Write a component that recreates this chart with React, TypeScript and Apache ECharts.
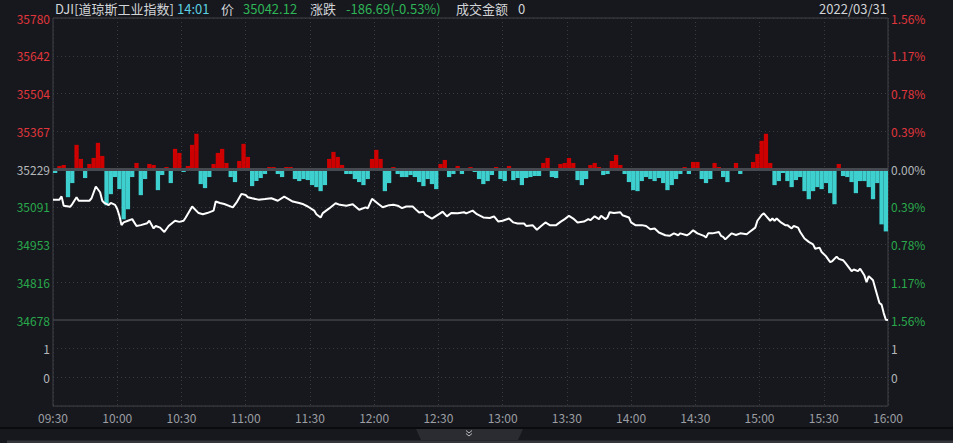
import React, { useEffect, useRef } from 'react';
import * as echarts from 'echarts';

const PREV_CLOSE = 35228.81;
const MAX_DEV = 550.92;
const STEP = MAX_DEV / 4;

// minutes since 09:30
const TIME_MIN = [
  0, 3, 4, 5, 8, 9, 11, 12, 17, 18, 20, 22, 23, 24, 26, 27, 29, 30, 31, 32, 33, 35, 37, 39, 41, 44, 45, 47, 48, 50,
  52, 54, 57, 59, 61, 62, 65, 68, 70, 72, 75, 76, 78, 80, 84, 86, 88, 90, 91, 93, 96, 99, 102, 105, 108, 110, 112,
  115, 117, 119, 122, 123, 125, 126, 129, 132, 134, 137, 140, 143, 146, 147, 149, 152, 154, 157, 159, 161, 163, 165,
  168, 170, 171, 173, 174, 177, 179, 181, 182, 184, 186, 189, 192, 193, 196, 198, 201, 204, 206, 208, 210, 213, 215,
  217, 220, 221, 224, 226, 228, 230, 232, 235, 237, 239, 241, 243, 245, 248, 250, 251, 253, 255, 256, 258, 259, 260,
  262, 265, 266, 269, 270, 272, 275, 277, 279, 281, 283, 286, 288, 290, 292, 293, 296, 297, 299, 301, 304, 305, 306,
  308, 311, 312, 313, 314, 316, 317, 319, 321, 324, 325, 328, 329, 331, 332, 333, 335, 336, 337, 338, 340, 342, 343,
  345, 346, 348, 349, 351, 353, 355, 356, 358, 359, 361, 363, 364, 366, 367, 369, 370, 373, 374, 376, 377, 379, 380,
  381, 383, 384, 386, 387, 388, 389, 390,
];

const PRICE = [
  35117, 35117, 35129, 35095, 35091, 35101, 35126, 35113, 35113, 35122, 35165, 35144, 35113, 35105, 35097, 35105,
  35098, 35083, 35058, 35024, 35034, 35040, 35046, 35021, 35024, 35031, 35040, 35012, 35021, 35015, 34999, 35021,
  35040, 35036, 35040, 35052, 35092, 35068, 35064, 35068, 35077, 35110, 35105, 35101, 35089, 35110, 35138, 35134,
  35126, 35122, 35117, 35119, 35122, 35113, 35128, 35119, 35110, 35105, 35100, 35092, 35077, 35064, 35052, 35068,
  35085, 35104, 35098, 35095, 35100, 35080, 35089, 35085, 35120, 35101, 35089, 35097, 35098, 35095, 35086, 35092,
  35092, 35077, 35070, 35073, 35061, 35048, 35058, 35068, 35073, 35056, 35068, 35067, 35071, 35067, 35077, 35064,
  35052, 35050, 35056, 35037, 35040, 35048, 35034, 35030, 35030, 35021, 35024, 35007, 35021, 35034, 35024, 35024,
  35036, 35046, 35058, 35048, 35034, 35037, 35046, 35042, 35056, 35046, 35058, 35046, 35052, 35071, 35068, 35071,
  35060, 35052, 35034, 35024, 35024, 35021, 35009, 35012, 34997, 34987, 34985, 34994, 34987, 34994, 34987, 34991,
  35005, 34994, 34985, 34979, 34994, 34994, 34999, 34985, 34981, 34972, 34987, 34994, 34988, 34994, 34991, 34997,
  35015, 35040, 35061, 35067, 35058, 35040, 35048, 35040, 35048, 35034, 35024, 35024, 35012, 35021, 35015, 34999,
  34975, 34963, 34954, 34938, 34942, 34926, 34911, 34889, 34893, 34909, 34901, 34896, 34887, 34856, 34862, 34856,
  34865, 34840, 34816, 34838, 34823, 34795, 34740, 34734, 34703, 34679, 34678,
];

// strength bars, one per 2-minute slot from 09:30 (positive = red, negative = cyan)
const BAR_VALUES = [
  -4, 3, 4, -28, -14, 24, 10, -9, 5, 11, 26, 13, -36, -25, -8, -20, -50, -40, -8, 6,
  -26, -10, 5, 4, -21, -6, 2, -14, 20, 16, -3, 3, 24, 35, -15, -19, -8, 5, 16, 20,
  6, -8, -13, 8, 25, 12, -17, -12, -9, -5, 2, 2, -5, -8, 2, 2, -10, -12, -10, -11,
  -16, -18, -22, -16, 10, 17, 12, 4, -5, -5, -10, -13, -16, -10, 10, 19, 10, -22, -14, 2,
  -5, -8, -8, -6, -8, -13, -17, -10, -15, -20, 5, 9, -8, -5, 3, -5, 1, 2, -3, -10,
  -15, -12, -6, 2, -10, -12, 3, -11, -9, -16, -9, -8, -7, -7, 6, 11, -8, -9, 5, 6,
  11, 6, -11, -16, -10, 4, 6, 2, -6, -5, 8, 14, 4, -5, -13, -21, -22, -12, -8, -10,
  -12, -9, -14, -21, -16, -10, -5, 2, -5, 7, 7, -10, -14, -10, 6, 2, -8, -13, -2, 6,
  -5, 1, 1, 7, 15, 28, 35, 6, -16, -12, -4, -12, -18, -11, -8, -22, -30, -22, -18, -20,
  -14, -24, -35, 5, -7, -8, -13, -24, -12, -12, -18, -30, -14, -55, -62,
];

const X_TICK_LABELS = [
  '09:30', '10:00', '10:30', '11:00', '11:30', '12:00', '12:30', '13:00', '13:30', '14:00', '14:30', '15:00',
  '15:30', '16:00',
];
const PRICE_TICK_LABELS = ['34678', '34816', '34953', '35091', '35229', '35367', '35504', '35642', '35780'];
const PCT_TICK_LABELS = ['1.56%', '1.17%', '0.78%', '0.39%', '0.00%', '0.39%', '0.78%', '1.17%', '1.56%'];

const HEADER = [
  { text: 'DJI[道琼斯工业指数]', x: 55, color: '#d2d4d8' },
  { text: '14:01', x: 177, color: '#5ccfe0' },
  { text: '价', x: 221, color: '#d2d4d8' },
  { text: '35042.12', x: 243, color: '#2fb457' },
  { text: '涨跌', x: 310, color: '#d2d4d8' },
  { text: '-186.69(-0.53%)', x: 346, color: '#2fb457' },
  { text: '成交金额', x: 456, color: '#d2d4d8' },
  { text: '0', x: 518, color: '#d2d4d8' },
];
const DATE_TEXT = '2022/03/31';

const RED = '#cf0000';
const CYAN = '#3ecfcf';
const LABEL_RED = '#e0363c';
const LABEL_GREEN = '#2aa84c';
const LABEL_GRAY = '#b4b6ba';
const FONT = "'Noto Sans CJK SC', 'Microsoft YaHei', sans-serif";

export default function App() {
  const ref = useRef<HTMLDivElement>(null);

  useEffect(() => {
    if (!ref.current) return;
    const chart = echarts.init(ref.current, undefined, { renderer: 'svg' });

    const gridLine = { show: true, lineStyle: { color: '#383b42', type: [1, 3] as any, width: 1 } };
    const tickIdx = (v: number) => Math.round((v + MAX_DEV) / STEP);
    const priceColor = (v: any) => {
      const n = Number(v);
      if (n > 1) return LABEL_RED;
      if (n < -1) return LABEL_GREEN;
      return LABEL_GRAY;
    };
    const slots = BAR_VALUES.map((_, i) => String(i));

    const option: any = {
      animation: false,
      backgroundColor: '#16181d',
      grid: [
        { left: 53, top: 18, width: 835, height: 302, show: true, borderColor: '#3e4148', borderWidth: 1 },
        { left: 53, top: 320, width: 835, height: 86, show: true, borderColor: '#3e4148', borderWidth: 1 },
      ],
      xAxis: [
        {
          type: 'value', gridIndex: 0, min: 0, max: 390, interval: 30,
          axisLine: { show: false }, axisTick: { show: false }, axisLabel: { show: false }, splitLine: gridLine,
        },
        { type: 'category', gridIndex: 0, data: slots, show: false, boundaryGap: true },
        {
          type: 'value', gridIndex: 1, min: 0, max: 390, interval: 30,
          axisLine: { show: false }, axisTick: { show: false },
          axisLabel: {
            formatter: (v: number) => X_TICK_LABELS[Math.round(v / 30)] ?? '',
            color: '#9c9ea3', fontSize: 12, margin: 5, fontFamily: FONT,
          },
          splitLine: gridLine,
        },
      ],
      yAxis: [
        {
          type: 'value', gridIndex: 0, position: 'left', min: -MAX_DEV, max: MAX_DEV, interval: STEP,
          axisLine: { show: false }, axisTick: { show: false },
          axisLabel: {
            formatter: (v: number) => PRICE_TICK_LABELS[tickIdx(v)] ?? '',
            color: priceColor, fontSize: 12, margin: 3, fontFamily: FONT,
          },
          splitLine: gridLine,
        },
        {
          type: 'value', gridIndex: 0, position: 'right', min: -MAX_DEV, max: MAX_DEV, interval: STEP,
          axisLine: { show: false }, axisTick: { show: false },
          axisLabel: {
            formatter: (v: number) => PCT_TICK_LABELS[tickIdx(v)] ?? '',
            color: priceColor, fontSize: 12, margin: 3, fontFamily: FONT,
          },
          splitLine: { show: false },
        },
        { type: 'value', gridIndex: 0, min: -150, max: 150, show: false, splitLine: { show: false } },
        {
          type: 'value', gridIndex: 1, position: 'left', min: -1, max: 2, interval: 1,
          axisLine: { show: false }, axisTick: { show: false },
          axisLabel: {
            formatter: (v: number) => (v === 0 || v === 1 ? String(v) : ''),
            color: LABEL_GRAY, fontSize: 12, margin: 3, fontFamily: FONT,
          },
          splitLine: gridLine,
        },
        {
          type: 'value', gridIndex: 1, position: 'right', min: -1, max: 2, interval: 1,
          axisLine: { show: false }, axisTick: { show: false },
          axisLabel: {
            formatter: (v: number) => (v === 0 || v === 1 ? String(v) : ''),
            color: LABEL_GRAY, fontSize: 12, margin: 3, fontFamily: FONT,
          },
          splitLine: { show: false },
        },
      ],
      series: [
        {
          type: 'bar', xAxisIndex: 1, yAxisIndex: 2, data: BAR_VALUES, barCategoryGap: '0%',
          itemStyle: { color: (p: any) => (p.value >= 0 ? RED : CYAN) },
          silent: true,
        },
        {
          type: 'line', xAxisIndex: 0, yAxisIndex: 0,
          data: TIME_MIN.map((t, i) => [t, PRICE[i] - PREV_CLOSE]),
          showSymbol: false, symbol: 'none',
          lineStyle: { color: '#ffffff', width: 2 },
          markLine: {
            silent: true, symbol: 'none', label: { show: false },
            lineStyle: { color: '#464950', width: 3, type: 'solid' },
            data: [{ yAxis: 0 }],
          },
          z: 3,
        },
      ],
      graphic: [
        ...HEADER.map((h) => ({
          type: 'text', x: h.x, y: 8,
          style: { text: h.text, fill: h.color, fontSize: 13, fontFamily: FONT, verticalAlign: 'middle', align: 'left' },
        })),
        {
          type: 'text', x: 887, y: 8,
          style: { text: DATE_TEXT, fill: '#d2d4d8', fontSize: 13, fontFamily: FONT, verticalAlign: 'middle', align: 'right' },
        },
        { type: 'rect', shape: { x: 0, y: 427, width: 953, height: 2 }, style: { fill: '#0a0b0d' } },
        {
          type: 'polygon',
          shape: { points: [[416, 429], [523, 429], [518, 440], [421, 440]] },
          style: { fill: '#2a2c31' },
        },
        { type: 'rect', shape: { x: 7, y: 440.5, width: 946, height: 3 }, style: { fill: '#34363c' } },
        {
          type: 'polyline', shape: { points: [[466, 430.5], [469, 433], [472, 430.5]] },
          style: { stroke: '#b8babe', lineWidth: 1, fill: 'none' },
        },
        {
          type: 'polyline', shape: { points: [[466, 433.5], [469, 436], [472, 433.5]] },
          style: { stroke: '#b8babe', lineWidth: 1, fill: 'none' },
        },
      ],
    };

    chart.setOption(option);
    return () => chart.dispose();
  }, []);

  return <div ref={ref} style={{ position: 'fixed', left: 0, top: 0, width: 953, height: 443 }} />;
}
